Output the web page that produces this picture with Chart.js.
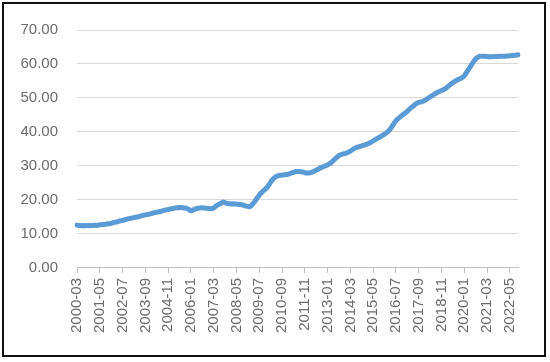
<!DOCTYPE html>
<html>
<head>
<meta charset="utf-8">
<script src="https://cdn.jsdelivr.net/npm/chart.js@4.4.1/dist/chart.umd.min.js"></script>
<style>
  html, body { margin: 0; padding: 0; background: #fff; }
  #box { position: absolute; left: 0; top: 0; width: 550px; height: 362px; }
  #frame { position: absolute; left: 2px; top: 2px; width: 540px; height: 351px; border: 2px solid #111; pointer-events: none; }
</style>
</head>
<body>
<div id="box"><canvas id="chart" width="550" height="362"></canvas></div>
<div id="frame"></div>
<script>
// monthly series, 2000-03 .. 2022-10
const firstYear = 2000, firstMonth = 3;
const lastYear = 2022, lastMonth = 10;

const values = [
  12.6, 12.5, 12.5, 12.4, 12.5, 12.4, 12.5, 12.5, 12.4, 12.5,              // 2000 (Mar-Dec)
  12.5, 12.6, 12.5, 12.6, 12.7, 12.7, 12.8, 12.8, 12.9, 13.0, 13.0, 13.1,  // 2001
  13.3, 13.4, 13.5, 13.6, 13.8, 13.9, 14.0, 14.1, 14.3, 14.4, 14.5, 14.6,  // 2002
  14.7, 14.8, 14.9, 15.0, 15.1, 15.3, 15.4, 15.5, 15.6, 15.7, 15.8, 15.9,  // 2003
  16.0, 16.2, 16.3, 16.4, 16.5, 16.6, 16.7, 16.9, 17.0, 17.1, 17.2, 17.3,  // 2004
  17.4, 17.5, 17.6, 17.7, 17.7, 17.8, 17.8, 17.7, 17.6, 17.6, 17.4, 17.1,  // 2005
  16.8, 17.0, 17.2, 17.4, 17.5, 17.6, 17.7, 17.7, 17.6, 17.6, 17.5, 17.5,  // 2006
  17.4, 17.5, 17.6, 18.1, 18.4, 18.7, 18.9, 19.2, 19.4, 19.2, 19.0, 18.9,  // 2007
  18.9, 18.8, 18.9, 18.8, 18.8, 18.7, 18.7, 18.6, 18.5, 18.3, 18.2, 18.1,  // 2008
  18.0, 18.3, 18.8, 19.4, 20.1, 20.8, 21.4, 22.0, 22.5, 22.9, 23.3, 23.8,  // 2009
  24.5, 25.3, 25.9, 26.4, 26.8, 27.0, 27.2, 27.3, 27.3, 27.4, 27.4, 27.5,  // 2010
  27.6, 27.8, 28.0, 28.1, 28.3, 28.4, 28.4, 28.3, 28.3, 28.2, 28.0, 27.9,  // 2011
  27.9, 28.0, 28.1, 28.3, 28.5, 28.8, 29.0, 29.3, 29.5, 29.7, 29.9, 30.1,  // 2012
  30.3, 30.6, 30.9, 31.4, 31.8, 32.3, 32.7, 33.1, 33.3, 33.5, 33.6, 33.7,  // 2013
  33.9, 34.1, 34.4, 34.7, 35.0, 35.3, 35.5, 35.6, 35.8, 35.9, 36.1, 36.2,  // 2014
  36.4, 36.6, 36.8, 37.1, 37.4, 37.7, 38.0, 38.2, 38.5, 38.8, 39.1, 39.4,  // 2015
  39.7, 40.1, 40.6, 41.2, 41.9, 42.7, 43.3, 43.8, 44.2, 44.6, 45.0, 45.3,  // 2016
  45.7, 46.1, 46.6, 47.0, 47.4, 47.8, 48.2, 48.5, 48.7, 48.8, 48.9, 49.1,  // 2017
  49.4, 49.7, 50.0, 50.3, 50.6, 50.9, 51.2, 51.5, 51.8, 52.0, 52.2, 52.4,  // 2018
  52.7, 53.0, 53.4, 53.8, 54.2, 54.5, 54.8, 55.1, 55.4, 55.6, 55.8, 56.1,  // 2019
  56.5, 57.2, 58.0, 58.7, 59.4, 60.2, 60.9, 61.5, 61.9, 62.2, 62.3, 62.3,  // 2020
  62.3, 62.2, 62.2, 62.1, 62.1, 62.1, 62.2, 62.2, 62.2, 62.2, 62.3, 62.3,  // 2021
  62.3, 62.3, 62.4, 62.3, 62.4, 62.5, 62.5, 62.6, 62.6, 62.7               // 2022 (Jan-Oct)
];

const labelEvery = 14;   // one tick label every 14 months
const yTicks = [0, 10, 20, 30, 40, 50, 60, 70];

// build the month categories
const months = [];
for (let y = firstYear, m = firstMonth; y < lastYear || (y === lastYear && m <= lastMonth); ) {
  months.push(y + '-' + String(m).padStart(2, '0'));
  m++;
  if (m > 12) { m = 1; y++; }
}

const axisFont = { family: "'Liberation Sans', Arial, sans-serif", size: 15 };
const textColor = '#6b6b6b';

new Chart(document.getElementById('chart'), {
  type: 'line',
  data: {
    labels: months,
    datasets: [{
      data: values,
      borderColor: '#5b9bd5',
      borderWidth: 5,
      borderCapStyle: 'round',
      borderJoinStyle: 'round',
      pointRadius: 0,
      tension: 0,
      fill: false
    }]
  },
  options: {
    responsive: false,
    animation: false,
    layout: { padding: { left: 1.5, right: 32, top: 30, bottom: 24 } },
    plugins: { legend: { display: false }, tooltip: { enabled: false } },
    scales: {
      x: {
        type: 'category',
        offset: false,
        afterBuildTicks: axis => {
          axis.ticks = axis.ticks.filter((t, i) => i % labelEvery === 0);
        },
        ticks: {
          autoSkip: false,
          minRotation: 90,
          maxRotation: 90,
          padding: 5,
          color: textColor,
          font: axisFont
        },
        grid: { drawOnChartArea: false, tickLength: 5, color: '#bfbfbf' },
        border: { color: '#bfbfbf', width: 1 }
      },
      y: {
        min: yTicks[0],
        max: yTicks[yTicks.length - 1],
        afterBuildTicks: axis => {
          axis.ticks = yTicks.map(v => ({ value: v }));
        },
        ticks: {
          padding: 19,
          color: textColor,
          font: axisFont,
          callback: v => Number(v).toFixed(2)
        },
        grid: { color: '#d9d9d9', lineWidth: 1, drawTicks: false },
        border: { display: false }
      }
    }
  }
});
</script>
</body>
</html>
